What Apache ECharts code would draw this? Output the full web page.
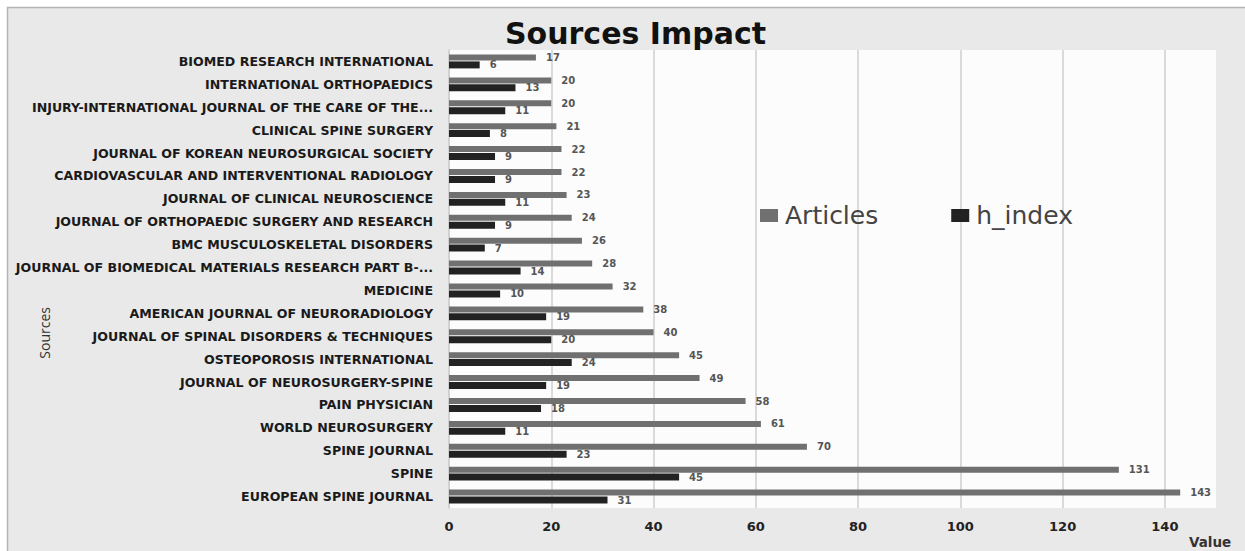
<!DOCTYPE html>
<html>
<head>
<meta charset="utf-8">
<script src="https://cdn.jsdelivr.net/npm/echarts@6/dist/echarts.min.js"></script>
<style>
  html, body { margin: 0; padding: 0; background: #fff; }
  #chart { width: 1245px; height: 551px; }
</style>
</head>
<body>
<div id="chart"></div>
<script>
var sources = [
  'BIOMED RESEARCH INTERNATIONAL',
  'INTERNATIONAL ORTHOPAEDICS',
  'INJURY-INTERNATIONAL JOURNAL OF THE CARE OF THE...',
  'CLINICAL SPINE SURGERY',
  'JOURNAL OF KOREAN NEUROSURGICAL SOCIETY',
  'CARDIOVASCULAR AND INTERVENTIONAL RADIOLOGY',
  'JOURNAL OF CLINICAL NEUROSCIENCE',
  'JOURNAL OF ORTHOPAEDIC SURGERY AND RESEARCH',
  'BMC MUSCULOSKELETAL DISORDERS',
  'JOURNAL OF BIOMEDICAL MATERIALS RESEARCH PART B-...',
  'MEDICINE',
  'AMERICAN JOURNAL OF NEURORADIOLOGY',
  'JOURNAL OF SPINAL DISORDERS & TECHNIQUES',
  'OSTEOPOROSIS INTERNATIONAL',
  'JOURNAL OF NEUROSURGERY-SPINE',
  'PAIN PHYSICIAN',
  'WORLD NEUROSURGERY',
  'SPINE JOURNAL',
  'SPINE',
  'EUROPEAN SPINE JOURNAL'
];
var articles = [17, 20, 20, 21, 22, 22, 23, 24, 26, 28, 32, 38, 40, 45, 49, 58, 61, 70, 131, 143];
var hIndex = [6, 13, 11, 8, 9, 9, 11, 9, 7, 14, 10, 19, 20, 24, 19, 18, 11, 23, 45, 31];

var chart = echarts.init(document.getElementById('chart'), null, { renderer: 'svg' });

var barLabel = {
  show: true,
  position: 'right',
  distance: 10,
  color: '#555',
  fontSize: 10,
  fontWeight: 'bold',
  fontFamily: 'DejaVu Sans'
};

var option = {
  animation: false,
  graphic: [
    {
      type: 'rect',
      z: -10,
      silent: true,
      shape: { x: 7.5, y: 7.5, width: 1260, height: 560 },
      style: { fill: '#e9e9e9', stroke: '#b5b5b5', lineWidth: 1.5 }
    },
    {
      type: 'text',
      left: 37,
      top: 307,
      rotation: Math.PI / 2,
      style: {
        text: 'Sources',
        fill: '#333',
        font: '14px "Open Sans"'
      }
    },
    {
      type: 'text',
      left: 1189,
      top: 535,
      style: {
        text: 'Value',
        fill: '#333',
        font: 'bold 13.5px "DejaVu Sans"'
      }
    }
  ],
  title: {
    text: 'Sources Impact',
    left: 500,
    top: 13,
    textStyle: {
      fontFamily: 'DejaVu Sans',
      fontSize: 30,
      fontWeight: 'bold',
      color: '#111'
    }
  },
  legend: {
    left: 755,
    top: 198,
    itemWidth: 18,
    itemHeight: 13,
    itemGap: 73,
    icon: 'rect',
    textStyle: { fontFamily: 'DejaVu Sans', fontSize: 25, color: '#444', padding: [0, 0, 0, 2] },
    data: ['Articles', 'h_index']
  },
  grid: {
    left: 449,
    right: 29,
    top: 50,
    bottom: 43,
    show: true,
    backgroundColor: '#fcfcfc',
    borderWidth: 0
  },
  xAxis: {
    type: 'value',
    min: 0,
    max: 150,
    interval: 20,
    axisLine: { show: false },
    axisTick: { show: false },
    axisLabel: {
      showMaxLabel: false,
      margin: 12,
      fontFamily: 'DejaVu Sans', fontSize: 13, fontWeight: 'bold', color: '#222'
    },
    splitLine: { showMaxLine: false, lineStyle: { color: '#cfcfcf', width: 1.5 } }
  },
  yAxis: {
    type: 'category',
    data: sources,
    inverse: true,
    axisTick: { show: false },
    axisLine: { show: true, lineStyle: { color: '#cfcfcf', width: 1.5 } },
    axisLabel: {
      margin: 16,
      fontFamily: 'DejaVu Sans', fontSize: 12.6, fontWeight: 'bold', color: '#1a1a1a'
    }
  },
  series: [
    {
      name: 'Articles',
      type: 'bar',
      data: articles,
      barWidth: 6,
      barGap: '15%',
      itemStyle: { color: '#707070' },
      label: barLabel
    },
    {
      name: 'h_index',
      type: 'bar',
      data: hIndex,
      barWidth: 7,
      barGap: '15%',
      itemStyle: { color: '#222222' },
      label: barLabel
    }
  ]
};

chart.setOption(option);
</script>
</body>
</html>
